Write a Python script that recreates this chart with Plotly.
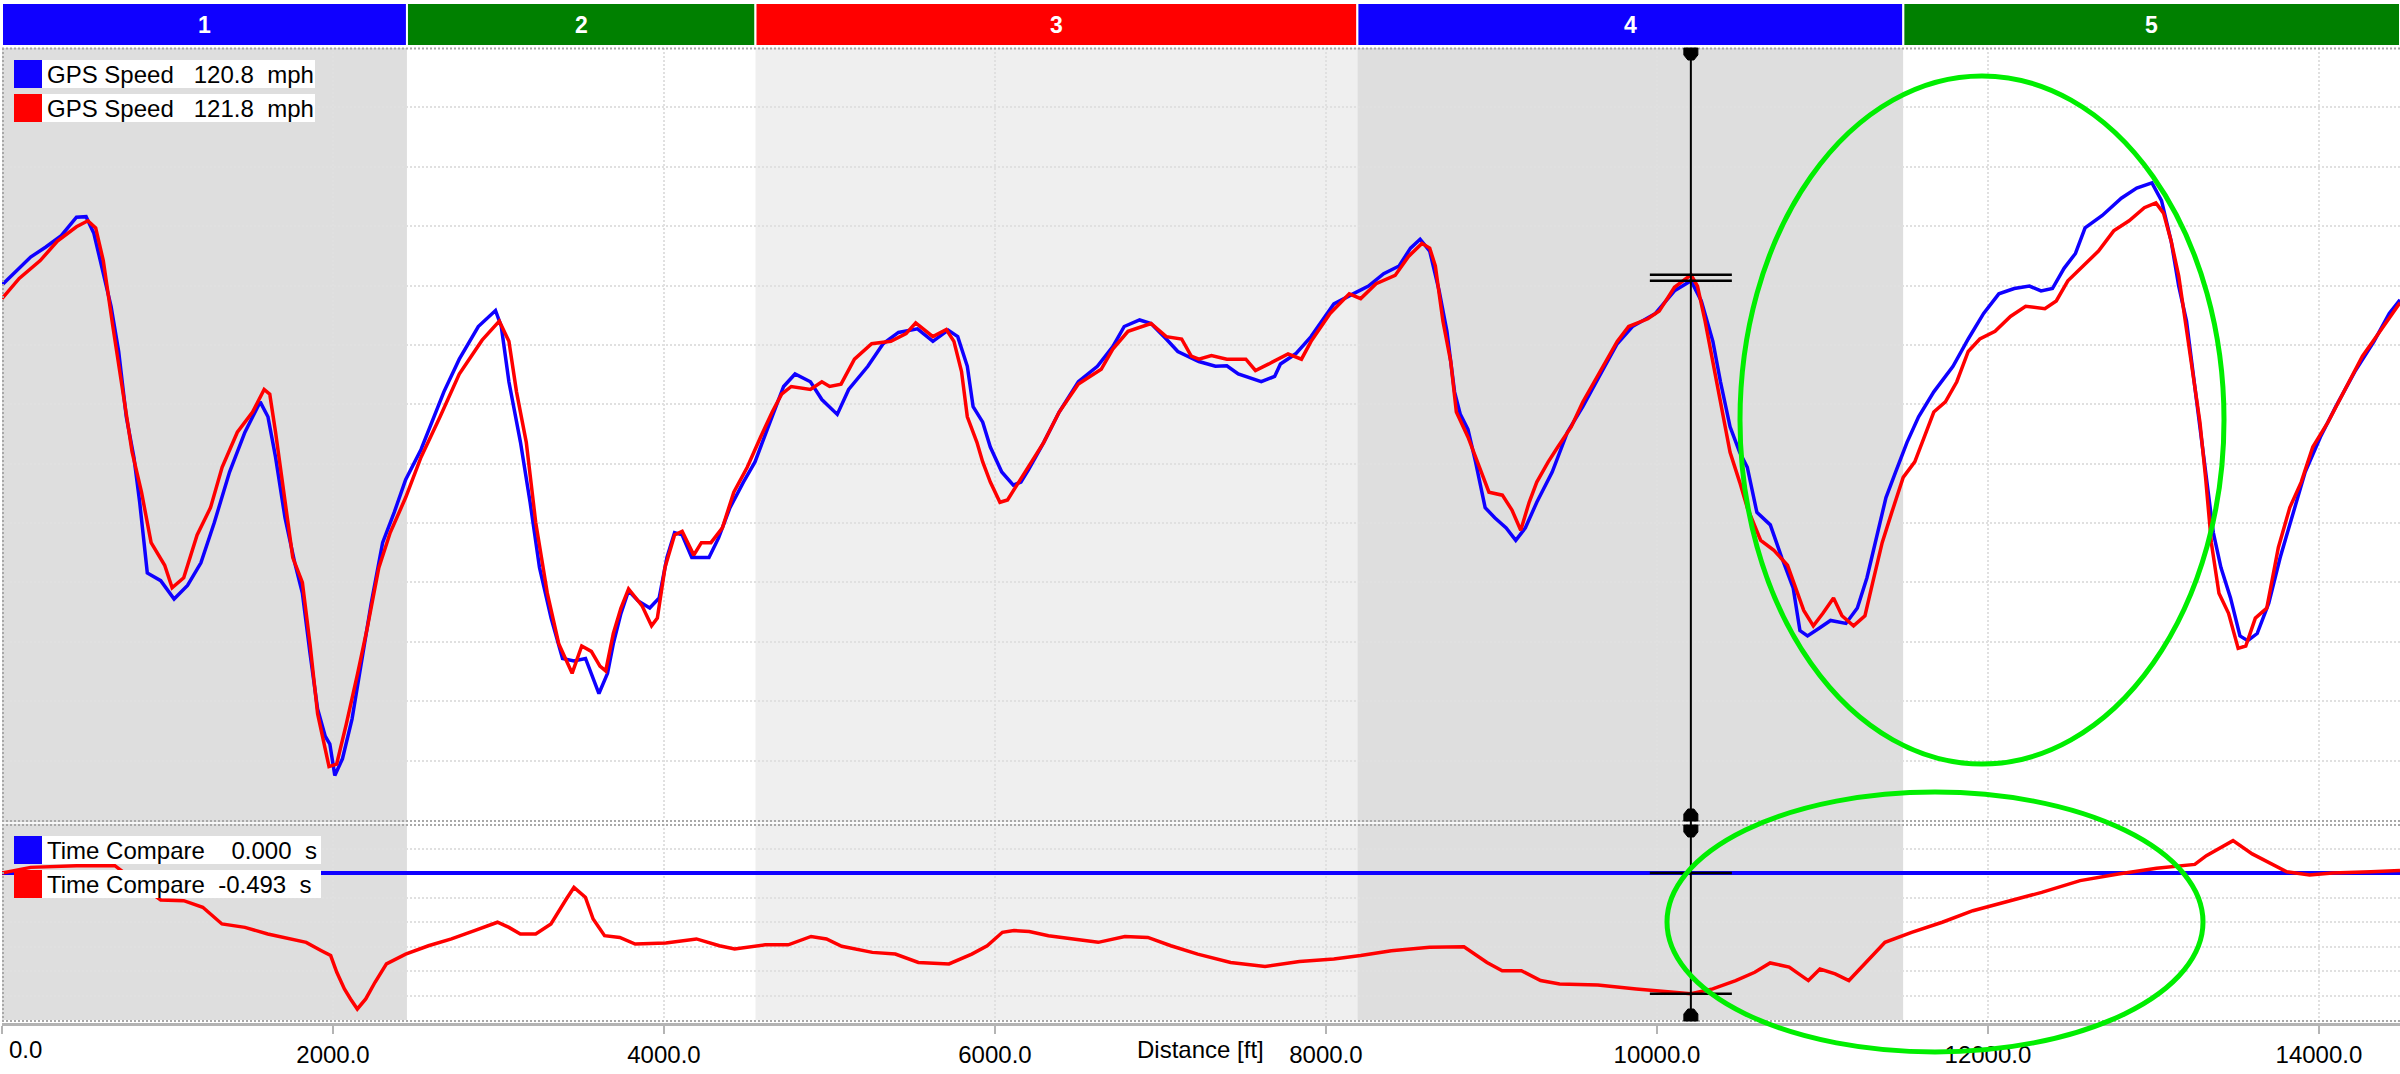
import plotly.graph_objects as go

# ------------------------------------------------------------------ data
BLUE_DIST = [0, 80, 173, 265, 358, 450, 508, 555, 601, 659, 705, 751, 797, 832, 878, 959, 1040, 1121,
             1202, 1283, 1375, 1468, 1560, 1607, 1653, 1710, 1769, 1815, 1861, 1907, 1953, 1981, 2011,
             2057, 2115, 2173, 2231, 2300, 2370, 2439, 2532, 2670, 2763, 2878, 2982, 3017, 3063, 3133,
             3191, 3248, 3318, 3387, 3456, 3526, 3607, 3659, 3694, 3740, 3786, 3844, 3914, 3971, 4018,
             4064, 4110, 4168, 4272, 4330, 4399, 4480, 4550, 4607, 4677, 4723, 4792, 4885, 4954, 5047,
             5116, 5232, 5324, 5417, 5532, 5625, 5717, 5775, 5833, 5868, 5926, 5972, 6041, 6111, 6157,
             6203, 6295, 6388, 6504, 6619, 6712, 6781, 6874, 6943, 7035, 7105, 7232, 7332, 7401, 7470,
             7609, 7690, 7725, 7817, 7910, 8048, 8164, 8257, 8349, 8442, 8511, 8569, 8627, 8684, 8731,
             8777, 8812, 8858, 8904, 8962, 9020, 9089, 9147, 9205, 9274, 9367, 9459, 9552, 9667, 9760,
             9852, 9991, 10106, 10206, 10268, 10338, 10384, 10442, 10500, 10546, 10604, 10685, 10754,
             10823, 10864, 10910, 10980, 11049, 11142, 11211, 11269, 11327, 11384, 11442, 11511, 11581,
             11673, 11789, 11881, 11974, 12066, 12159, 12251, 12321, 12390, 12460, 12529, 12587, 12691,
             12806, 12899, 12991, 13049, 13107, 13153, 13200, 13246, 13292, 13327, 13362, 13408, 13466,
             13523, 13570, 13627, 13697, 13766, 13836, 13917, 14009, 14102, 14217, 14333, 14425, 14490]
BLUE_SPEED = [120.1, 122.3, 124.8, 126.5, 128.4, 131.5, 131.6, 128.8, 123.3, 116.5, 108.9, 97.9, 91.1,
              83.5, 71.6, 70.3, 67.2, 69.5, 73.3, 80.1, 88.6, 95.3, 100.4, 97.9, 91.1, 80.9, 73.3, 68.2,
              58.1, 48.7, 44.1, 42.8, 37.5, 40.3, 47.0, 56.4, 66.5, 76.7, 81.8, 87.3, 92.4, 102.1, 107.6,
              113.1, 115.8, 113.1, 103.8, 93.6, 83.5, 72.5, 64.0, 57.2, 56.8, 57.2, 51.3, 54.7, 59.7,
              64.8, 68.6, 66.9, 65.7, 67.4, 74.2, 78.4, 78.0, 74.2, 74.2, 77.5, 82.6, 86.9, 90.3, 94.5,
              99.6, 103.0, 105.1, 103.8, 100.8, 98.3, 102.5, 106.4, 110.2, 112.1, 112.7, 110.6, 112.5,
              111.4, 106.4, 99.6, 97.0, 92.8, 88.6, 86.4, 86.9, 89.0, 93.6, 98.7, 103.8, 106.4, 109.7,
              113.1, 114.2, 113.6, 111.0, 108.9, 107.2, 106.4, 106.5, 105.1, 103.8, 104.7, 106.8, 108.5,
              111.4, 116.9, 118.6, 119.9, 122.0, 123.3, 126.3, 127.8, 125.8, 119.1, 112.3, 102.1, 98.3,
              95.8, 90.3, 82.6, 80.9, 79.2, 77.1, 79.2, 83.5, 88.6, 95.3, 99.6, 105.5, 110.2, 113.1,
              115.3, 119.1, 120.8, 117.4, 110.6, 103.8, 96.2, 91.9, 89.4, 81.8, 79.7, 74.2, 69.1, 61.9,
              61.0, 62.3, 63.6, 63.1, 65.7, 70.8, 77.5, 84.3, 88.6, 93.6, 97.9, 102.1, 106.4, 111.0,
              115.3, 118.6, 119.5, 119.9, 119.1, 119.5, 122.9, 125.4, 129.7, 131.8, 134.7, 136.4, 137.3,
              134.3, 127.5, 119.9, 114.0, 103.8, 93.6, 85.2, 78.4, 72.5, 67.4, 61.0, 60.2, 61.4, 66.5,
              74.2, 80.9, 88.6, 94.5, 99.6, 105.5, 110.6, 115.3, 117.6]

RED_DIST = [0, 104, 231, 335, 450, 519, 566, 612, 670, 728, 786, 843, 901, 983, 1028, 1098, 1179, 1260,
            1330, 1422, 1514, 1584, 1618, 1653, 1699, 1757, 1815, 1861, 1907, 1976, 2022, 2080, 2149,
            2207, 2277, 2346, 2439, 2532, 2647, 2763, 2901, 3005, 3063, 3109, 3168, 3225, 3295, 3364,
            3445, 3503, 3561, 3613, 3648, 3694, 3740, 3786, 3867, 3925, 3960, 4006, 4064, 4110, 4180,
            4226, 4284, 4353, 4422, 4503, 4584, 4654, 4711, 4769, 4885, 4954, 5001, 5070, 5151, 5255,
            5371, 5463, 5521, 5625, 5706, 5752, 5798, 5833, 5891, 5926, 5972, 6030, 6076, 6134, 6203,
            6295, 6388, 6504, 6642, 6712, 6804, 6943, 7035, 7128, 7186, 7232, 7308, 7401, 7516, 7574,
            7655, 7771, 7852, 7910, 8025, 8141, 8210, 8303, 8418, 8499, 8580, 8627, 8661, 8707, 8754,
            8788, 8858, 8916, 8985, 9066, 9124, 9177, 9228, 9274, 9343, 9401, 9482, 9552, 9667, 9760,
            9829, 9945, 10014, 10106, 10206, 10245, 10291, 10338, 10384, 10442, 10500, 10546, 10627,
            10707, 10789, 10858, 10887, 10945, 11003, 11067, 11118, 11188, 11257, 11303, 11361, 11419,
            11488, 11558, 11627, 11673, 11743, 11812, 11881, 11951, 12043, 12136, 12228, 12344, 12413,
            12483, 12575, 12668, 12760, 12853, 12945, 13015, 13061, 13107, 13153, 13200, 13246, 13281,
            13315, 13350, 13396, 13454, 13512, 13558, 13616, 13685, 13755, 13824, 13893, 13963, 14055,
            14148, 14263, 14379, 14490]
RED_SPEED = [117.8, 121.2, 124.2, 127.5, 129.9, 130.9, 129.7, 124.2, 113.1, 102.1, 92.0, 85.2, 76.7,
             72.9, 69.1, 70.8, 78.0, 82.6, 89.4, 95.3, 98.7, 102.5, 101.7, 95.3, 86.0, 74.2, 70.0, 59.7,
             47.9, 39.0, 39.4, 46.1, 54.7, 62.3, 72.5, 78.4, 84.3, 91.1, 97.9, 105.1, 110.8, 114.0,
             110.6, 102.1, 93.6, 80.1, 68.2, 59.7, 54.7, 59.3, 58.4, 55.9, 55.1, 61.4, 65.7, 68.9, 66.1,
             62.7, 64.0, 72.5, 78.0, 78.6, 74.6, 76.7, 76.7, 79.2, 85.2, 89.4, 94.5, 98.7, 101.7, 103.0,
             102.5, 103.8, 103.0, 103.4, 107.6, 110.2, 110.6, 111.9, 113.7, 111.4, 112.6, 110.6, 105.5,
             97.9, 93.6, 90.3, 86.9, 83.5, 83.9, 86.4, 89.4, 93.6, 98.7, 103.4, 105.9, 109.3, 112.3,
             113.6, 111.4, 111.0, 108.1, 107.6, 108.2, 107.6, 107.6, 105.7, 106.8, 108.5, 107.6, 110.6,
             115.3, 118.6, 117.8, 120.3, 121.7, 124.9, 127.1, 126.3, 123.3, 114.0, 107.2, 98.7, 94.5,
             90.3, 85.2, 84.7, 82.2, 78.8, 83.5, 86.9, 90.3, 92.8, 96.2, 100.4, 105.9, 110.6, 113.1,
             114.4, 115.7, 119.7, 121.8, 119.9, 114.0, 107.2, 100.4, 91.9, 86.9, 82.6, 77.1, 75.4, 72.9,
             67.4, 65.3, 62.7, 64.8, 67.4, 64.4, 62.7, 64.4, 69.9, 76.7, 81.8, 87.7, 90.3, 95.3, 98.7,
             100.4, 103.8, 108.9, 111.0, 112.3, 114.8, 116.5, 116.1, 117.4, 120.8, 123.3, 125.8, 129.2,
             130.9, 133.1, 133.9, 132.2, 127.5, 121.6, 112.3, 103.8, 97.0, 87.7, 76.7, 68.2, 64.8, 58.9,
             59.3, 64.0, 65.7, 75.9, 82.6, 86.9, 92.8, 97.0, 102.1, 108.1, 112.7, 117.1]

TIME_BLUE_DIST = [0, 14490]
TIME_BLUE = [0.0, 0.0]

TIME_RED_DIST = [0, 173, 450, 682, 867, 959, 1098, 1213, 1329, 1468, 1606, 1745, 1838, 1930, 1986, 2023,
                 2069, 2106, 2147, 2198, 2254, 2323, 2439, 2577, 2716, 2855, 2994, 3063, 3132, 3225,
                 3317, 3410, 3456, 3525, 3572, 3641, 3733, 3826, 4011, 4196, 4335, 4427, 4612, 4751,
                 4889, 4982, 5074, 5259, 5398, 5537, 5722, 5860, 5953, 6045, 6115, 6207, 6323, 6508,
                 6624, 6785, 6924, 7063, 7225, 7424, 7632, 7840, 8048, 8210, 8395, 8626, 8834, 8973,
                 9065, 9181, 9297, 9412, 9643, 9875, 10060, 10205, 10337, 10476, 10591, 10684, 10799,
                 10915, 10985, 11077, 11160, 11262, 11378, 11539, 11724, 11909, 12094, 12325, 12557,
                 12788, 13019, 13250, 13320, 13481, 13597, 13713, 13806, 13944, 14083, 14314, 14490]
TIME_RED = [0.0, 0.023, 0.03, 0.03, -0.065, -0.110, -0.113, -0.14, -0.208, -0.222, -0.249, -0.269,
            -0.283, -0.317, -0.337, -0.405, -0.473, -0.514, -0.555, -0.514, -0.446, -0.371, -0.331,
            -0.297, -0.269, -0.235, -0.201, -0.222, -0.249, -0.249, -0.208, -0.106, -0.059, -0.099,
            -0.188, -0.256, -0.263, -0.290, -0.286, -0.269, -0.297, -0.310, -0.293, -0.293, -0.259,
            -0.269, -0.299, -0.324, -0.331, -0.365, -0.371, -0.331, -0.297, -0.242, -0.235, -0.239,
            -0.256, -0.272, -0.283, -0.259, -0.263, -0.297, -0.331, -0.365, -0.382, -0.361, -0.351,
            -0.337, -0.317, -0.303, -0.301, -0.365, -0.399, -0.399, -0.439, -0.453, -0.457, -0.473,
            -0.484, -0.493, -0.473, -0.439, -0.405, -0.367, -0.384, -0.439, -0.392, -0.412, -0.439,
            -0.365, -0.283, -0.242, -0.201, -0.154, -0.122, -0.079, -0.031, -0.004, 0.019, 0.035,
            0.071, 0.132, 0.078, 0.037, 0.005, -0.008, 0.0, 0.005, 0.01]

SECTOR_NAMES = ["1", "2", "3", "4", "5"]
SECTOR_EDGES = [0, 2447, 4553, 8190, 11489, 14490]
SECTOR_COLORS = ["#0f00ff", "#008000", "#ff0000", "#0f00ff", "#008000"]
SECTOR_SHADES = ["#dedede", "#ffffff", "#efefef", "#dedede", "#ffffff"]

X_TICKS = [0, 2000, 4000, 6000, 8000, 10000, 12000, 14000]
X_TICK_LABELS = ["0.0", "2000.0", "4000.0", "6000.0", "8000.0", "10000.0", "12000.0", "14000.0"]
X_TITLE = "Distance [ft]"

CURSOR_DIST = 10205
SPEED_LEGEND = [("GPS Speed", "120.8", "mph", "#0f00ff"), ("GPS Speed", "121.8", "mph", "#ff0000")]
TIME_LEGEND = [("Time Compare", "0.000", "s", "#0f00ff"), ("Time Compare", "-0.493", "s", "#ff0000")]
CURSOR_SPEED = [120.8, 121.8]
CURSOR_TIME = [0.0, -0.493]

# ------------------------------------------------------------------ layout constants (pixels)
W, H = 2400, 1074
PL, PR, PT, PB = 2, 2400, 48, 1024
X_MAX = 14490
FONT = "Liberation Sans, Arial, sans-serif"
GREEN = "#00ee00"
BORDER = "#a8a8a8"


def px_x(px):
    return (px - PL) / (PR - PL)


def px_y(px):
    return (PB - px) / (PB - PT)


def ft_px(ft):
    return PL + ft / X_MAX * (PR - PL)


TOP_DOM = [px_y(820), 1.0]
LOW_DOM = [px_y(1020), px_y(824)]

fig = go.Figure()
fig.add_trace(go.Scatter(x=BLUE_DIST, y=BLUE_SPEED, mode="lines", xaxis="x", yaxis="y",
                         line=dict(color="#0f00ff", width=3.5), hoverinfo="skip"))
fig.add_trace(go.Scatter(x=RED_DIST, y=RED_SPEED, mode="lines", xaxis="x", yaxis="y",
                         line=dict(color="#ff0000", width=3.5), hoverinfo="skip"))
fig.add_trace(go.Scatter(x=TIME_BLUE_DIST, y=TIME_BLUE, mode="lines", xaxis="x", yaxis="y2",
                         line=dict(color="#0f00ff", width=4), hoverinfo="skip"))
fig.add_trace(go.Scatter(x=TIME_RED_DIST, y=TIME_RED, mode="lines", xaxis="x", yaxis="y2",
                         line=dict(color="#ff0000", width=3.5), hoverinfo="skip"))

shapes = []
annotations = []

# sector shading + sector bar
for name, a, b, col, shade in zip(SECTOR_NAMES, SECTOR_EDGES[:-1], SECTOR_EDGES[1:], SECTOR_COLORS,
                                  SECTOR_SHADES):
    shapes.append(dict(type="rect", xref="paper", yref="paper", x0=a / X_MAX, x1=b / X_MAX,
                       y0=px_y(1020), y1=px_y(48), fillcolor=shade, line=dict(width=0), layer="below"))
    shapes.append(dict(type="rect", xref="paper", yref="paper", x0=a / X_MAX, x1=b / X_MAX,
                       y0=px_y(46), y1=px_y(3), fillcolor=col, line=dict(color="white", width=2),
                       layer="above"))
    annotations.append(dict(xref="paper", yref="paper", x=(a + b) / 2 / X_MAX, y=px_y(25),
                            text="<b>%s</b>" % name, showarrow=False, xanchor="center", yanchor="middle",
                            font=dict(family=FONT, size=23, color="white")))

# panel borders (dotted)
for ypx in (48.5, 821, 825, 1021):
    shapes.append(dict(type="line", xref="paper", yref="paper", x0=0, x1=1, y0=px_y(ypx), y1=px_y(ypx),
                       line=dict(color=BORDER, width=2, dash="2px,2px"), layer="above"))
shapes.append(dict(type="line", xref="paper", yref="paper", x0=0, x1=1, y0=px_y(823), y1=px_y(823),
                   line=dict(color="white", width=1.5), layer="above"))
shapes.append(dict(type="line", xref="paper", yref="paper", x0=px_x(3), x1=px_x(3), y0=px_y(48),
                   y1=px_y(1021), line=dict(color=BORDER, width=2, dash="2px,2px"), layer="above"))


# legends
def legend_rows(rows, top_px, box_right, gap1):
    out_s, out_a = [], []
    for i, (nm, val, unit, col) in enumerate(rows):
        y0 = top_px + i * 34
        y1 = y0 + 28
        out_s.append(dict(type="rect", xref="paper", yref="paper", x0=px_x(14), x1=px_x(42),
                          y0=px_y(y1), y1=px_y(y0), fillcolor=col, line=dict(width=0), layer="above"))
        out_s.append(dict(type="rect", xref="paper", yref="paper", x0=px_x(42), x1=px_x(box_right),
                          y0=px_y(y1), y1=px_y(y0), fillcolor="white", line=dict(width=0), layer="above"))
        g = gap1 if not val.startswith("-") else 2
        txt = nm + "\u00a0" * g + val + "\u00a0\u00a0" + unit
        out_a.append(dict(xref="paper", yref="paper", x=px_x(45), y=px_y((y0 + y1) / 2), text=txt,
                          showarrow=False, xanchor="left", yanchor="middle",
                          font=dict(family=FONT, size=24, color="black")))
    return out_s, out_a


s1, a1 = legend_rows(SPEED_LEGEND, 60, 315, 3)
s2, a2 = legend_rows(TIME_LEGEND, 836, 321, 4)
shapes += s1 + s2
annotations += a1 + a2

# cursor
cx = ft_px(CURSOR_DIST)
shapes.append(dict(type="line", xref="paper", yref="paper", x0=px_x(cx), x1=px_x(cx), y0=px_y(48),
                   y1=px_y(1020), line=dict(color="black", width=2), layer="above"))


def marker_path(edge_px, direction):
    pts = [(cx - 7, edge_px), (cx + 7, edge_px), (cx + 7, edge_px + 7 * direction),
           (cx + 3, edge_px + 12 * direction), (cx - 3, edge_px + 12 * direction),
           (cx - 7, edge_px + 7 * direction)]
    return "M " + " L ".join("%.5f,%.5f" % (px_x(x), px_y(y)) for x, y in pts) + " Z"


for edge, d in ((48, 1), (821, -1), (825, 1), (1021, -1)):
    shapes.append(dict(type="path", xref="paper", yref="paper", path=marker_path(edge, d),
                       fillcolor="black", line=dict(color="black", width=1), layer="above"))

half = 41 / (PR - PL) * X_MAX
for v in CURSOR_SPEED:
    shapes.append(dict(type="line", xref="x", yref="y", x0=CURSOR_DIST - half, x1=CURSOR_DIST + half,
                       y0=v, y1=v, line=dict(color="black", width=2.5), layer="above"))
for v in CURSOR_TIME:
    shapes.append(dict(type="line", xref="x", yref="y2", x0=CURSOR_DIST - half, x1=CURSOR_DIST + half,
                       y0=v, y1=v, line=dict(color="black", width=2.5), layer="above"))

# highlight ellipses (pixel boxes)
for (x0, y0, x1, y1) in ((1740, 76, 2224, 764), (1667, 792, 2203, 1052)):
    shapes.append(dict(type="circle", xref="paper", yref="paper", x0=px_x(x0), x1=px_x(x1),
                       y0=px_y(y1), y1=px_y(y0), line=dict(color=GREEN, width=5), layer="above"))

# x axis: first label and title
annotations.append(dict(xref="paper", yref="paper", x=px_x(7), y=px_y(1049), text=X_TICK_LABELS[0],
                        showarrow=False, xanchor="left", yanchor="middle",
                        font=dict(family=FONT, size=24, color="black")))
annotations.append(dict(xref="paper", yref="paper", x=px_x(1200), y=px_y(1049), text=X_TITLE,
                        showarrow=False, xanchor="center", yanchor="middle",
                        font=dict(family=FONT, size=24, color="black")))

GRID = dict(showgrid=True, gridcolor="#e0e0e0", griddash="2px,2px", gridwidth=2)

fig.update_layout(
    width=W, height=H,
    margin=dict(l=PL, r=W - PR, t=PT, b=H - PB, pad=0),
    paper_bgcolor="white", plot_bgcolor="rgba(0,0,0,0)",
    showlegend=False,
    xaxis=dict(range=[0, X_MAX], anchor="free", position=0, tickmode="array", tickvals=X_TICKS,
               ticktext=[""] + X_TICK_LABELS[1:], ticks="outside", ticklen=8, tickwidth=2,
               tickcolor="#b4b4b4", showline=True, linewidth=3, linecolor="#b4b4b4", zeroline=False,
               tickfont=dict(family=FONT, size=24, color="black"), fixedrange=True, **GRID),
    yaxis=dict(domain=TOP_DOM, range=[30, 160], dtick=10, tick0=0, showticklabels=False, ticks="",
               zeroline=False, showline=False, anchor="x", fixedrange=True, **GRID),
    yaxis2=dict(domain=LOW_DOM, range=[-0.6, 0.2], dtick=0.1, tick0=0, showticklabels=False, ticks="",
                zeroline=False, showline=False, anchor="x", fixedrange=True, **GRID),
    shapes=shapes,
    annotations=annotations,
)

fig.write_html("out.html", config={"displayModeBar": False},
               post_script="document.body.style.margin='0';document.body.style.overflow='hidden';")
